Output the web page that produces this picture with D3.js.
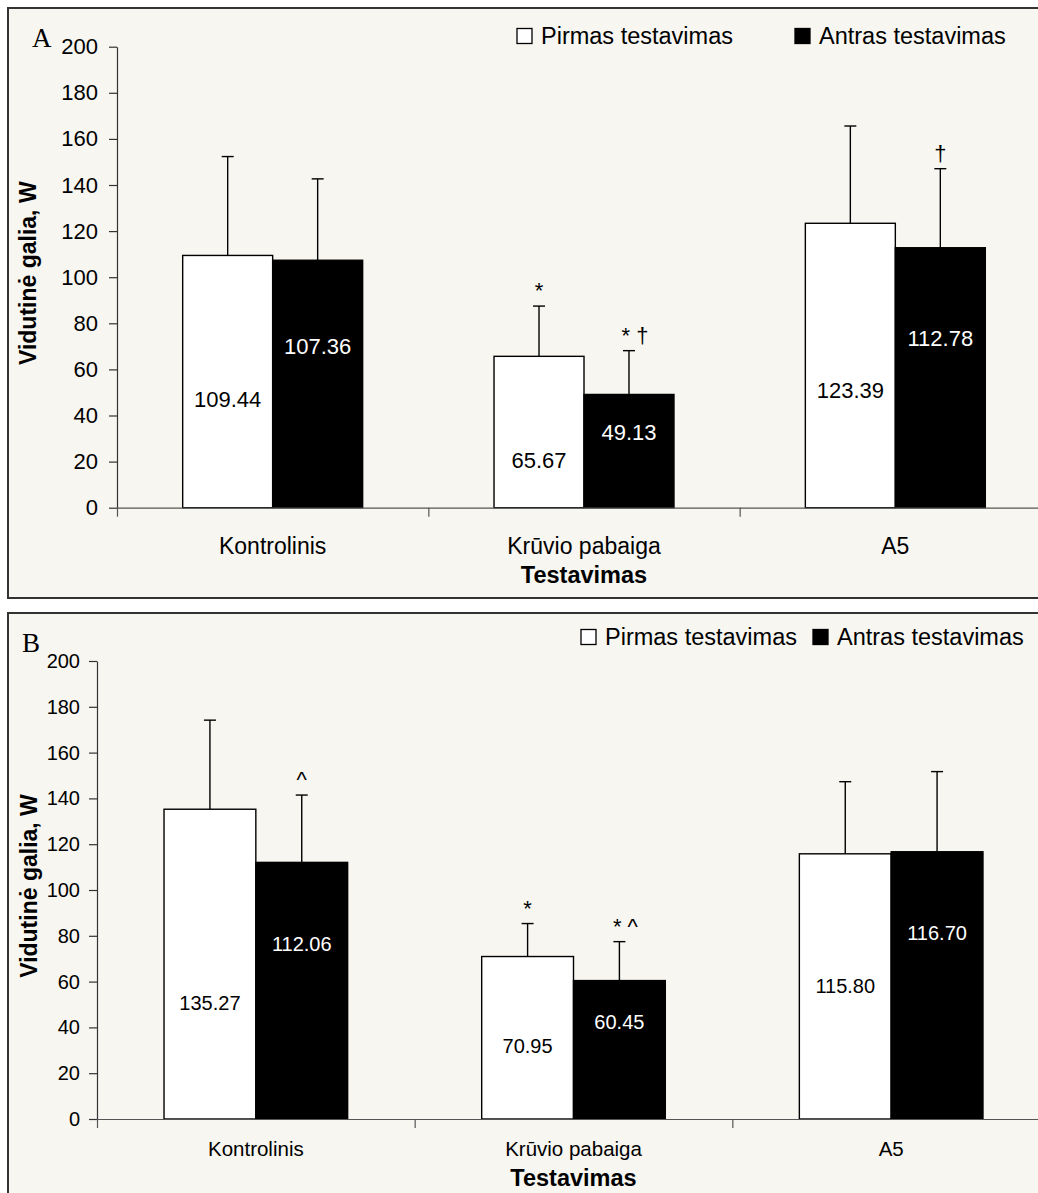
<!DOCTYPE html>
<html>
<head>
<meta charset="utf-8">
<script src="https://cdn.jsdelivr.net/npm/d3@7"></script>
<style>
body { margin: 0; background: #fff; }
text { font-family: "Liberation Sans", Arial, sans-serif; fill: #000; }
</style>
</head>
<body>
<svg width="1038" height="1193"></svg>
<script>
// data
var categories = ["Kontrolinis", "Krūvio pabaiga", "A5"];
var seriesNames = ["Pirmas testavimas", "Antras testavimas"];
var yTicks = [0, 20, 40, 60, 80, 100, 120, 140, 160, 180, 200];

var meanA1 = [109.44, 65.67, 123.39];
var meanA2 = [107.36, 49.13, 112.78];
var errA1 = [42.9, 21.8, 42.2];
var errA2 = [35.3, 19.0, 34.3];

var meanB1 = [135.27, 70.95, 115.80];
var meanB2 = [112.06, 60.45, 116.70];
var errB1 = [38.9, 14.4, 31.5];
var errB2 = [29.4, 17.0, 35.0];

// where the value text sits inside each bar (in W)
var labelAtA1 = [47.2, 20.7, 51.0];
var labelAtA2 = [70.1, 33.0, 73.6];
var labelAtB1 = [50.7, 32.0, 58.1];
var labelAtB2 = [76.4, 42.4, 81.1];

// significance marks: [category, series, text]
var marksA = [[1, 0, "*"], [1, 1, "* †"], [2, 1, "†"]];
var marksB = [[0, 1, "^"], [1, 0, "*"], [1, 1, "* ^"]];

var svg = d3.select("svg");
var bg = "#f7f6f1";

function drawPanel(p) {
  var g = svg.append("g");

  g.append("rect")
      .attr("x", 8).attr("y", p.frameTop)
      .attr("width", 1100).attr("height", p.frameH)
      .attr("fill", bg).attr("stroke", "#333").attr("stroke-width", 2);

  var y = d3.scaleLinear().domain([0, 200]).range([p.bottom, p.top]);
  var x0 = d3.scaleBand().domain(categories).range([p.left, p.right]);
  var x1 = d3.scaleBand().domain(seriesNames).range([0, x0.bandwidth()]).paddingOuter(0.73);
  var xIdx = d3.scaleLinear().domain([0, 3]).range([p.left, p.right]);

  var rows = [];
  categories.forEach(function(c, i) {
    rows.push({cat: c, s: 0, v: p.m1[i], e: p.e1[i], at: p.l1[i]});
    rows.push({cat: c, s: 1, v: p.m2[i], e: p.e2[i], at: p.l2[i]});
  });

  // error bars (upper only)
  var err = g.append("g").selectAll("g").data(rows).enter().append("g")
      .attr("stroke", "#000").attr("stroke-width", 1.4);
  err.append("line")
      .attr("x1", function(d) { return x0(d.cat) + x1(seriesNames[d.s]) + x1.bandwidth() / 2; })
      .attr("x2", function(d) { return x0(d.cat) + x1(seriesNames[d.s]) + x1.bandwidth() / 2; })
      .attr("y1", function(d) { return y(d.v); })
      .attr("y2", function(d) { return y(d.v + d.e); });
  err.append("line")
      .attr("x1", function(d) { return x0(d.cat) + x1(seriesNames[d.s]) + x1.bandwidth() / 2 - 6; })
      .attr("x2", function(d) { return x0(d.cat) + x1(seriesNames[d.s]) + x1.bandwidth() / 2 + 6; })
      .attr("y1", function(d) { return y(d.v + d.e); })
      .attr("y2", function(d) { return y(d.v + d.e); });

  // bars
  g.append("g").selectAll("rect").data(rows).enter().append("rect")
      .attr("x", function(d) { return x0(d.cat) + x1(seriesNames[d.s]); })
      .attr("y", function(d) { return y(d.v); })
      .attr("width", x1.bandwidth())
      .attr("height", function(d) { return y(0) - y(d.v); })
      .attr("fill", function(d) { return d.s ? "#000" : "#fff"; })
      .attr("stroke", "#000").attr("stroke-width", 1.4);

  // value labels
  g.append("g").selectAll("text").data(rows).enter().append("text")
      .attr("x", function(d) { return x0(d.cat) + x1(seriesNames[d.s]) + x1.bandwidth() / 2; })
      .attr("y", function(d) { return y(d.at); })
      .attr("dy", "0.36em")
      .attr("text-anchor", "middle")
      .style("font-size", p.valFont + "px")
      .style("fill", function(d) { return d.s ? "#fff" : "#000"; })
      .text(function(d) { return d.v.toFixed(2); });

  // marks
  g.append("g").selectAll("text").data(p.marks).enter().append("text")
      .attr("x", function(d) { return x0(categories[d[0]]) + x1(seriesNames[d[1]]) + x1.bandwidth() / 2 + (d[2].length > 1 ? 6 : 0); })
      .attr("y", function(d) {
        var v = d[1] ? p.m2[d[0]] + p.e2[d[0]] : p.m1[d[0]] + p.e1[d[0]];
        return y(v) - 8;
      })
      .attr("text-anchor", "middle")
      .style("font-size", "22px")
      .text(function(d) { return d[2]; });

  // y axis
  var ya = g.append("g")
      .attr("transform", "translate(" + p.left + ",0)")
      .call(d3.axisLeft(y).tickValues(yTicks).tickSize(8).tickSizeOuter(0).tickPadding(p.tickPad));
  ya.selectAll("text").style("font-size", p.tickFont + "px").style("font-family", "Liberation Sans, Arial, sans-serif");
  ya.selectAll("line, path").attr("stroke", "#333").attr("stroke-width", 1.2);

  // x axis line and category ticks
  var xa = g.append("g")
      .attr("transform", "translate(0," + p.bottom + ")")
      .call(d3.axisBottom(xIdx).tickValues([0, 1, 2, 3]).tickFormat("").tickSize(9).tickSizeOuter(0));
  xa.selectAll("line, path").attr("stroke", "#555").attr("stroke-width", 1.2);

  var xl = g.append("g")
      .attr("transform", "translate(0," + p.bottom + ")")
      .call(d3.axisBottom(x0).tickSize(0).tickPadding(p.catPad));
  xl.select(".domain").remove();
  xl.selectAll("text").style("font-size", p.catFont + "px").style("font-family", "Liberation Sans, Arial, sans-serif");

  // axis titles
  g.append("text")
      .attr("x", x0(categories[1]) + x0.bandwidth() / 2)
      .attr("y", p.xTitleY)
      .attr("text-anchor", "middle")
      .style("font-size", "23.5px").style("font-weight", "bold")
      .text("Testavimas");

  g.append("text")
      .attr("transform", "translate(" + p.yTitleX + "," + ((p.top + p.bottom) / 2 - 4) + ") rotate(-90)")
      .attr("text-anchor", "middle")
      .attr("dy", "0.36em")
      .style("font-size", "23px").style("font-weight", "bold")
      .text("Vidutinė galia, W");

  // panel letter
  g.append("text")
      .attr("x", p.letterX).attr("y", p.letterY)
      .style("font-family", "Liberation Serif, Times New Roman, serif")
      .style("font-size", "27px")
      .text(p.letter);

  // legend
  var lg = g.append("g").selectAll("g").data(seriesNames).enter().append("g")
      .attr("transform", function(d, i) { return "translate(" + p.legendX[i] + "," + p.legendY + ")"; });
  lg.append("rect")
      .attr("x", 0).attr("y", -7.5).attr("width", 15).attr("height", 15)
      .attr("fill", function(d, i) { return i ? "#000" : "#fff"; })
      .attr("stroke", "#000").attr("stroke-width", 1.3);
  lg.append("text")
      .attr("x", 24).attr("dy", "0.36em")
      .style("font-size", "23.5px")
      .text(function(d) { return d; });
}

drawPanel({
  frameTop: 8, frameH: 590, top: 46.7, bottom: 507.7, left: 117, right: 1051,
  m1: meanA1, m2: meanA2, e1: errA1, e2: errA2, l1: labelAtA1, l2: labelAtA2, marks: marksA,
  valFont: 22, tickFont: 22, tickPad: 11, catFont: 23, catPad: 30,
  xTitleY: 583, yTitleX: 28, letter: "A", letterX: 32, letterY: 47,
  legendX: [517, 795], legendY: 36
});

drawPanel({
  frameTop: 613, frameH: 700, top: 661, bottom: 1119, left: 97, right: 1050,
  m1: meanB1, m2: meanB2, e1: errB1, e2: errB2, l1: labelAtB1, l2: labelAtB2, marks: marksB,
  valFont: 20, tickFont: 20, tickPad: 9, catFont: 20.5, catPad: 22,
  xTitleY: 1186, yTitleX: 29, letter: "B", letterX: 22, letterY: 652,
  legendX: [581, 813], legendY: 637
});
</script>
</body>
</html>
